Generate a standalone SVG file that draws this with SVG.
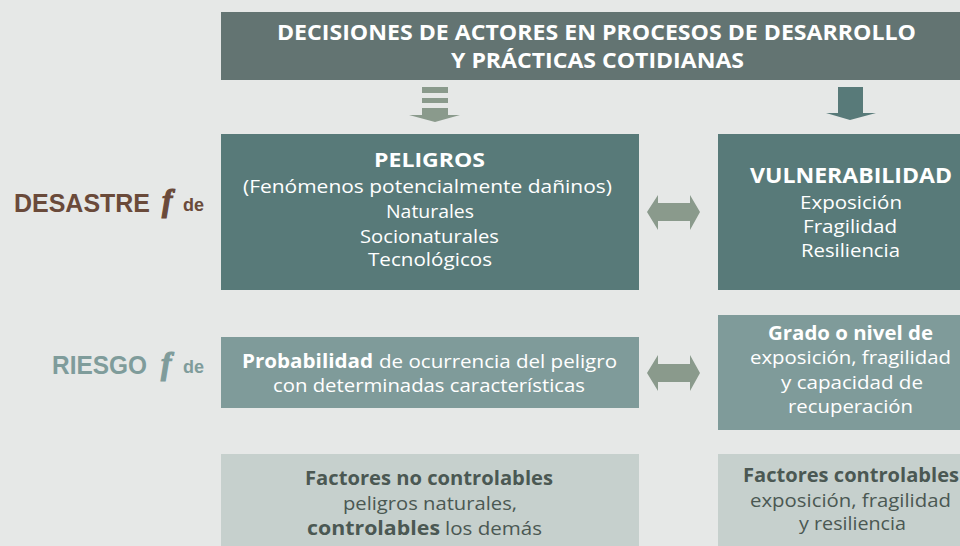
<svg xmlns="http://www.w3.org/2000/svg" width="960" height="546" viewBox="0 0 960 546">
<style>
.bg{fill:#e6e8e7}
.title{fill:#637472}
.dark{fill:#587a79}
.mid{fill:#7f9b9a}
.light{fill:#c6d0cd}
.arr{fill:#8a9a8c}
.arrd{fill:#587a79}
text{font-family:"Open Sans","Noto Sans",sans-serif}
.w{fill:#ffffff}
.t{fill:#4b5853}
.b{font-weight:bold}
.s18{font-size:18px}
.s19{font-size:19px}
.s20{font-size:20px}
.s21{font-size:21px}
.lab{font-family:"Liberation Sans",Arial,sans-serif;font-weight:bold}
.fx{font-family:"Liberation Serif","Times New Roman",serif;font-weight:bold;font-style:italic;font-size:31px;stroke-width:1.2}
.brown{fill:#6a4a3a}
.teal{fill:#7f9c9b}
.fx.brown{stroke:#6a4a3a}
.fx.teal{stroke:#7f9c9b}
</style>
<rect class="bg" x="0" y="0" width="960" height="546"/>

<g id="connectors">
  <g id="arrow-title-peligros">
    <rect class="arr" x="422" y="87" width="26" height="6"/>
    <rect class="arr" x="422" y="98" width="26" height="5"/>
    <rect class="arr" x="422" y="108" width="26" height="7"/>
    <polygon class="arr" points="409,115 460,115 435,122"/>
  </g>
  <g id="arrow-title-vulnerabilidad">
    <polygon class="arrd" points="838,87 863,87 863,113 876,113 850,120 826,113 838,113"/>
  </g>
  <g id="arrow-peligros-vulnerabilidad">
    <polygon class="arr" points="647,212 658,195 658,203 690,203 690,195 700,212 690,230 690,221 658,221 658,230"/>
  </g>
  <g id="arrow-probabilidad-grado">
    <polygon class="arr" points="647,373 658,355 658,364 690,364 690,355 700,373 690,391 690,382 658,382 658,391"/>
  </g>
</g>

<g id="title">
  <rect class="title" x="221" y="12" width="739" height="68"/>
  <text class="w b s21" x="277" y="40" textLength="639" lengthAdjust="spacingAndGlyphs">DECISIONES DE ACTORES EN PROCESOS DE DESARROLLO</text>
  <text class="w b s21" x="451" y="68" textLength="293" lengthAdjust="spacingAndGlyphs">Y PRÁCTICAS COTIDIANAS</text>
</g>

<g id="label-desastre">
  <text class="lab brown" x="14" y="212" font-size="25" textLength="136" lengthAdjust="spacingAndGlyphs">DESASTRE</text>
  <text class="fx brown" x="162" y="211">f</text>
  <text class="lab brown" x="183" y="211" font-size="18">de</text>
</g>

<g id="label-riesgo">
  <text class="lab teal" x="52" y="374" font-size="25" textLength="95" lengthAdjust="spacingAndGlyphs">RIESGO</text>
  <text class="fx teal" x="161" y="374">f</text>
  <text class="lab teal" x="183" y="373" font-size="18">de</text>
</g>

<g id="peligros">
  <rect class="dark" x="221" y="134" width="418" height="156"/>
  <text class="w b s20" x="374" y="167" textLength="111" lengthAdjust="spacingAndGlyphs">PELIGROS</text>
  <text class="w s18" x="243" y="193" textLength="369" lengthAdjust="spacingAndGlyphs">(Fenómenos potencialmente dañinos)</text>
  <text class="w s18" x="386" y="218" textLength="88" lengthAdjust="spacingAndGlyphs">Naturales</text>
  <text class="w s18" x="360" y="243" textLength="139" lengthAdjust="spacingAndGlyphs">Socionaturales</text>
  <text class="w s18" x="368" y="266" textLength="124" lengthAdjust="spacingAndGlyphs">Tecnológicos</text>
</g>

<g id="vulnerabilidad">
  <rect class="dark" x="718" y="134" width="242" height="156"/>
  <text class="w b s21" x="750" y="183" textLength="202" lengthAdjust="spacingAndGlyphs">VULNERABILIDAD</text>
  <text class="w s18" x="800" y="209" textLength="102" lengthAdjust="spacingAndGlyphs">Exposición</text>
  <text class="w s18" x="803" y="233" textLength="94" lengthAdjust="spacingAndGlyphs">Fragilidad</text>
  <text class="w s18" x="801" y="257" textLength="99" lengthAdjust="spacingAndGlyphs">Resiliencia</text>
</g>

<g id="probabilidad">
  <rect class="mid" x="221" y="337" width="418" height="71"/>
  <text class="w b s19" x="242" y="368" textLength="131" lengthAdjust="spacingAndGlyphs">Probabilidad</text>
  <text class="w s18" x="379" y="368" textLength="238" lengthAdjust="spacingAndGlyphs">de ocurrencia del peligro</text>
  <text class="w s18" x="273" y="392" textLength="312" lengthAdjust="spacingAndGlyphs">con determinadas características</text>
</g>

<g id="grado">
  <rect class="mid" x="718" y="315" width="242" height="115"/>
  <text class="w b s19" x="768" y="340" textLength="165" lengthAdjust="spacingAndGlyphs">Grado o nivel de</text>
  <text class="w s18" x="750" y="364" textLength="201" lengthAdjust="spacingAndGlyphs">exposición, fragilidad</text>
  <text class="w s18" x="781" y="389" textLength="142" lengthAdjust="spacingAndGlyphs">y capacidad de</text>
  <text class="w s18" x="788" y="413" textLength="125" lengthAdjust="spacingAndGlyphs">recuperación</text>
</g>

<g id="factores-no-controlables">
  <rect class="light" x="221" y="454" width="418" height="92"/>
  <text class="t b s19" x="305" y="485" textLength="248" lengthAdjust="spacingAndGlyphs">Factores no controlables</text>
  <text class="t s18" x="343" y="510" textLength="174" lengthAdjust="spacingAndGlyphs">peligros naturales,</text>
  <text class="t b s19" x="307" y="535" textLength="133" lengthAdjust="spacingAndGlyphs">controlables</text>
  <text class="t s18" x="445" y="535" textLength="97" lengthAdjust="spacingAndGlyphs">los demás</text>
</g>

<g id="factores-controlables">
  <rect class="light" x="718" y="454" width="242" height="92"/>
  <text class="t b s19" x="743" y="482" textLength="216" lengthAdjust="spacingAndGlyphs">Factores controlables</text>
  <text class="t s18" x="750" y="507" textLength="201" lengthAdjust="spacingAndGlyphs">exposición, fragilidad</text>
  <text class="t s18" x="799" y="530" textLength="107" lengthAdjust="spacingAndGlyphs">y resiliencia</text>
</g>
</svg>
